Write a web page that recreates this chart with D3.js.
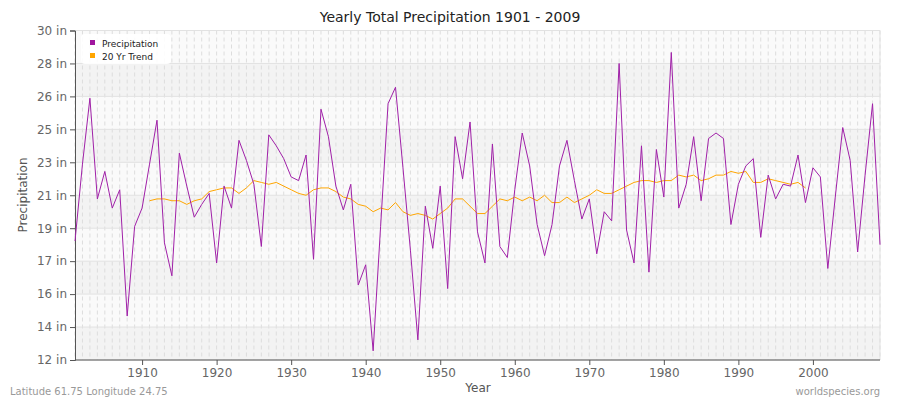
<!DOCTYPE html><html><head><meta charset="utf-8"><script src="https://cdn.jsdelivr.net/npm/d3@7"></script>
<style>body{margin:0;background:#fff}text{font-family:"DejaVu Sans",sans-serif}</style></head><body><svg id="c" width="900" height="400"></svg><script>
const startYear=1901;
const precip=[18.5,22.7,26.3,20.8,22.3,20.3,21.3,14.4,19.3,20.3,22.7,25.1,18.4,16.6,23.3,21.5,19.8,20.5,21.1,17.3,21.5,20.3,24.0,22.9,21.6,18.2,24.3,23.7,23.0,22.0,21.8,23.2,17.5,25.7,24.2,21.5,20.2,21.6,16.1,17.2,12.5,19.3,26.0,26.9,22.5,18.0,13.1,20.4,18.1,21.5,15.9,24.2,21.9,25.0,19.0,17.3,23.8,18.2,17.6,21.3,24.4,22.6,19.4,17.7,19.4,22.6,24.0,21.8,19.7,20.8,17.8,20.1,19.6,28.2,19.1,17.3,23.7,16.8,23.5,20.9,28.8,20.3,21.6,24.2,20.7,24.1,24.4,24.1,19.4,21.6,22.6,23.0,18.7,22.1,20.8,21.6,21.5,23.2,20.6,22.5,22.0,17.0,20.9,24.7,22.9,17.9,22.1,26.0,18.3];
const trendStart=1911;
const trend=[20.7,20.8,20.8,20.7,20.7,20.5,20.7,20.8,21.2,21.3,21.4,21.4,21.1,21.4,21.8,21.7,21.6,21.7,21.5,21.3,21.1,21.0,21.3,21.4,21.4,21.2,20.9,20.8,20.5,20.4,20.1,20.3,20.2,20.6,20.1,19.9,20.0,19.9,19.7,20.0,20.3,20.8,20.8,20.4,20.0,20.0,20.4,20.8,20.7,20.9,20.7,20.9,20.7,21.0,20.6,20.6,20.9,20.6,20.8,21.0,21.3,21.1,21.1,21.3,21.5,21.7,21.8,21.8,21.7,21.8,21.8,22.1,22.0,22.1,21.8,21.9,22.1,22.1,22.3,22.2,22.3,21.7,21.7,21.9,21.8,21.7,21.6,21.7,21.4];
const yTicks=[12,13.8,15.6,17.4,19.2,21,22.8,24.6,26.4,28.2,30];
const yTickLabels=["12 in","14 in","16 in","17 in","19 in","21 in","23 in","25 in","26 in","28 in","30 in"];
const xTicks=[1910,1920,1930,1940,1950,1960,1970,1980,1990,2000];
const svg=d3.select("#c");
const L=75,R=880,T=30.5,B=360;
const x=d3.scaleLinear().domain([1901,2009]).range([L,R]);
const y=d3.scaleLinear().domain([12,30]).range([B,T]);
svg.append("rect").attr("x",L).attr("y",T).attr("width",R-L).attr("height",B-T).attr("fill","#fafafa");
for(let i=0;i<yTicks.length-1;i++){ if(i%2==0) svg.append("rect").attr("x",L).attr("y",y(yTicks[i+1])).attr("width",R-L).attr("height",y(yTicks[i])-y(yTicks[i+1])).attr("fill","#f3f3f3");}
const years=d3.range(1901,2010);
svg.selectAll(".vg").data(years).join("line").attr("x1",d=>x(d)).attr("x2",d=>x(d)).attr("y1",T).attr("y2",B).attr("stroke","#ddd").attr("stroke-dasharray","4,3").attr("stroke-width",1);
svg.selectAll(".hg").data(yTicks).join("line").attr("x1",L).attr("x2",R).attr("y1",d=>y(d)).attr("y2",d=>y(d)).attr("stroke","#e2e2e2");
svg.append("line").attr("x1",R).attr("x2",R).attr("y1",T).attr("y2",B).attr("stroke","#e2e2e2");
const ya=svg.append("g").attr("transform",`translate(${L},0)`).call(d3.axisLeft(y).tickValues(yTicks).tickFormat((d,i)=>yTickLabels[i]).tickSize(5));
const xa=svg.append("g").attr("transform",`translate(0,${B})`).call(d3.axisBottom(x).tickValues(xTicks).tickFormat(d3.format("d")).tickSize(5));
[ya,xa].forEach(a=>{a.selectAll("path,line").attr("stroke","#555");a.selectAll("text").attr("fill","#666").attr("font-size",12).attr("font-family","DejaVu Sans");});
xa.select(".domain").attr("d",`M${L},0H${R}`);
const line=d3.line().x(d=>x(d[0])).y(d=>y(d[1]));
svg.append("path").datum(trend.map((v,i)=>[trendStart+i,v])).attr("d",line).attr("fill","none").attr("stroke","#ffa500").attr("stroke-width",1);
svg.append("path").datum(precip.map((v,i)=>[startYear+i,v])).attr("d",line).attr("fill","none").attr("stroke","#a020a8").attr("stroke-width",1);
svg.append("text").attr("x",450).attr("y",22).attr("text-anchor","middle").attr("font-size",14).attr("fill","#222").text("Yearly Total Precipitation 1901 - 2009");
svg.append("text").attr("x",478).attr("y",392).attr("text-anchor","middle").attr("font-size",12).attr("fill","#555").text("Year");
svg.append("text").attr("transform","translate(27,195) rotate(-90)").attr("text-anchor","middle").attr("font-size",12).attr("fill","#555").text("Precipitation");
svg.append("text").attr("x",10).attr("y",395).attr("font-size",10).attr("fill","#999").text("Latitude 61.75 Longitude 24.75");
svg.append("text").attr("x",880).attr("y",395).attr("text-anchor","end").attr("font-size",10).attr("fill","#999").text("worldspecies.org");
const lg=svg.append("g");
lg.append("rect").attr("x",81).attr("y",34).attr("width",90).attr("height",30).attr("rx",4).attr("fill","#fff").attr("opacity",0.9);
[["Precipitation","#a0169e"],["20 Yr Trend","#ffa500"]].forEach((d,i)=>{lg.append("rect").attr("x",90).attr("y",40+i*13).attr("width",5).attr("height",5).attr("fill",d[1]);lg.append("text").attr("x",102).attr("y",46.5+i*13).attr("font-size",9).attr("fill","#222").text(d[0]);});
</script></body></html>
